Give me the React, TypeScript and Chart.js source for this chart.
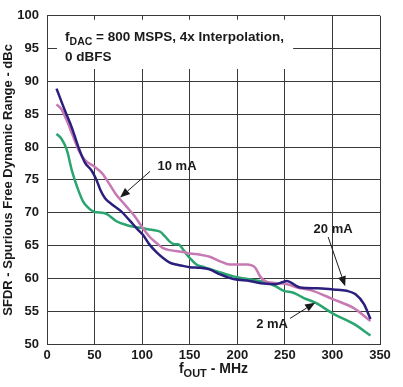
import React, { useEffect, useRef } from "react";
import { Chart, registerables } from "chart.js";

Chart.register(...registerables);

const xTicks = [0, 50, 100, 150, 200, 250, 300, 350];
const yTicks = [50, 55, 60, 65, 70, 75, 80, 85, 90, 95, 100];

const blueX = [10, 19, 26, 33, 40, 47, 52, 56, 61, 68, 78, 87, 95, 101, 108, 115, 122, 129, 136, 143, 150, 161, 170, 182, 196, 213, 228, 240, 252, 266, 284, 301, 315, 324, 333, 340];
const blueY = [88.9, 85.5, 83, 80, 77.6, 76.4, 75, 73.5, 72.2, 71.3, 70.2, 68.8, 67.5, 66.6, 65.1, 64, 63.1, 62.4, 62.1, 61.9, 61.7, 61.6, 61.4, 60.6, 59.9, 59.6, 59.2, 59.1, 59.6, 58.6, 58.5, 58.3, 58.1, 57.6, 56.1, 53.8];

const pinkX = [10, 15, 20, 27, 34, 40, 50, 58, 65, 72, 82, 92, 101, 108, 115, 122, 129, 143, 150, 161, 171, 182, 192, 210, 219, 224, 232, 248, 266, 277, 301, 322, 340];
const pinkY = [86.5, 85.8, 84.3, 81.8, 79.3, 78, 77, 76, 74.5, 72.9, 71.2, 69.5, 67.6, 66.3, 65.4, 64.6, 64.3, 64.0, 63.8, 63.6, 63.3, 62.6, 62.1, 62.1, 61.6, 60.3, 59.4, 59.2, 58.5, 58.2, 56.8, 55.5, 53.5];

const greenX = [10, 15, 21, 26, 33, 38, 43, 50, 58, 63, 73, 84, 98, 110, 119, 124, 129, 134, 138, 142, 147, 152, 157, 165, 178, 196, 215, 231, 240, 249, 259, 270, 282, 301, 322, 340];
const greenY = [82, 81.3, 79.5, 76.5, 73.4, 71.7, 70.8, 70.1, 70.0, 69.8, 68.7, 68.1, 67.7, 67.4, 67.1, 66.4, 65.6, 65.2, 65.2, 64.6, 63.6, 62.8, 62.1, 61.7, 61.1, 60.3, 59.8, 59.4, 58.8, 58.1, 57.8, 57.0, 56.3, 54.6, 53.1, 51.3];

const seriesLabels = ["20 mA", "10 mA", "2 mA"];
const seriesColors = ["#2b1f7e", "#c679b3", "#2aa56f"];

// annotations in data units: label, text x/y, arrow from x/y, arrow to x/y
const annLabels = ["10 mA", "20 mA", "2 mA"];
const annTextX = [136.7, 300.7, 236.6];
const annTextY = [77.1, 67.4, 53.0];
const annFromX = [108.3, 295.5, 255.5];
const annFromY = [76.3, 66.3, 53.9];
const annToX = [76.8, 313.4, 281.8];
const annToY = [72.3, 58.8, 56.3];

const FONT = "'Liberation Sans', Arial, sans-serif";

function pts(xs: number[], ys: number[]) {
  return xs.map((x, i) => ({ x, y: ys[i] }));
}

const overlayPlugin = {
  id: "overlay",
  beforeDatasetsDraw(chart: any) {
    const ctx = chart.ctx;
    const xs = chart.scales.x;
    const ys = chart.scales.y;
    ctx.save();
    ctx.fillStyle = "#ffffff";
    const bx0 = xs.getPixelForValue(10.5);
    const bx1 = xs.getPixelForValue(258.7);
    const by0 = ys.getPixelForValue(99.4);
    const by1 = ys.getPixelForValue(91.9);
    ctx.fillRect(bx0, by0, bx1 - bx0, by1 - by0);
    ctx.restore();
  },
  afterDatasetsDraw(chart: any) {
    const ctx = chart.ctx;
    const xs = chart.scales.x;
    const ys = chart.scales.y;
    const area = chart.chartArea;
    ctx.save();
    ctx.fillStyle = "#1a1a1a";
    ctx.textBaseline = "alphabetic";
    ctx.textAlign = "left";
    // info text
    const tx = xs.getPixelForValue(19);
    const l1 = ys.getPixelForValue(96.1);
    ctx.font = `bold 13.5px ${FONT}`;
    ctx.fillText("f", tx, l1);
    let w = ctx.measureText("f").width;
    ctx.font = `bold 10.5px ${FONT}`;
    ctx.fillText("DAC", tx + w, l1 + 4);
    w += ctx.measureText("DAC").width;
    ctx.font = `bold 13.5px ${FONT}`;
    ctx.fillText(" = 800 MSPS, 4x Interpolation,", tx + w, l1);
    ctx.fillText("0 dBFS", tx, ys.getPixelForValue(93.1));

    // annotations
    ctx.textAlign = "center";
    ctx.textBaseline = "middle";
    ctx.font = `bold 13px ${FONT}`;
    for (let i = 0; i < annLabels.length; i++) {
      ctx.fillText(annLabels[i], xs.getPixelForValue(annTextX[i]), ys.getPixelForValue(annTextY[i]));
      const x0 = xs.getPixelForValue(annFromX[i]);
      const y0 = ys.getPixelForValue(annFromY[i]);
      const x1 = xs.getPixelForValue(annToX[i]);
      const y1 = ys.getPixelForValue(annToY[i]);
      const ang = Math.atan2(y1 - y0, x1 - x0);
      const hl = 10;
      const hw = 4;
      const bxp = x1 - hl * Math.cos(ang);
      const byp = y1 - hl * Math.sin(ang);
      ctx.strokeStyle = "#1a1a1a";
      ctx.lineWidth = 1;
      ctx.beginPath();
      ctx.moveTo(x0, y0);
      ctx.lineTo(bxp, byp);
      ctx.stroke();
      ctx.beginPath();
      ctx.moveTo(x1, y1);
      ctx.lineTo(bxp + hw * Math.sin(ang), byp - hw * Math.cos(ang));
      ctx.lineTo(bxp - hw * Math.sin(ang), byp + hw * Math.cos(ang));
      ctx.closePath();
      ctx.fill();
    }

    // x axis title with subscript
    ctx.textAlign = "left";
    ctx.textBaseline = "alphabetic";
    const cx = (area.left + area.right) / 2;
    const by = area.bottom + 29;
    ctx.font = `bold 14px ${FONT}`;
    const wf = ctx.measureText("f").width;
    const wr = ctx.measureText(" - MHz").width;
    ctx.font = `bold 11px ${FONT}`;
    const ws = ctx.measureText("OUT").width;
    const sx = cx - (wf + ws + wr) / 2;
    ctx.font = `bold 14px ${FONT}`;
    ctx.fillText("f", sx, by);
    ctx.font = `bold 11px ${FONT}`;
    ctx.fillText("OUT", sx + wf, by + 4);
    ctx.font = `bold 14px ${FONT}`;
    ctx.fillText(" - MHz", sx + wf + ws, by);
    ctx.restore();
  },
};

export default function App() {
  const ref = useRef<HTMLCanvasElement>(null);
  useEffect(() => {
    if (!ref.current) return;
    const data = [pts(blueX, blueY), pts(pinkX, pinkY), pts(greenX, greenY)];
    const chart = new Chart(ref.current, {
      type: "line",
      data: {
        datasets: data.map((d, i) => ({
          label: seriesLabels[i],
          data: d,
          borderColor: seriesColors[i],
          borderWidth: 2.5,
          pointRadius: 0,
          fill: false,
          cubicInterpolationMode: "monotone" as const,
        })),
      },
      options: {
        animation: false,
        responsive: false,
        maintainAspectRatio: false,
        layout: { padding: { left: 0, right: 23, top: 10, bottom: 0 } },
        plugins: { legend: { display: false }, tooltip: { enabled: false } },
        scales: {
          x: {
            type: "linear",
            min: 0,
            max: 350,
            afterBuildTicks: (s: any) => { s.ticks = xTicks.map((v) => ({ value: v })); },
            afterFit: (s: any) => { s.height = 43; },
            grid: { color: "#3a3a3a", lineWidth: 1, drawTicks: false },
            border: { color: "#3a3a3a", width: 1 },
            ticks: { color: "#1a1a1a", font: { family: FONT, size: 13, weight: "bold" }, padding: 4, maxRotation: 0 },
          },
          y: {
            type: "linear",
            min: 50,
            max: 100,
            afterBuildTicks: (s: any) => { s.ticks = yTicks.map((v) => ({ value: v })); },
            afterFit: (s: any) => { s.width = 47; },
            grid: { color: "#3a3a3a", lineWidth: 1, drawTicks: false },
            border: { color: "#3a3a3a", width: 1 },
            ticks: { color: "#1a1a1a", font: { family: FONT, size: 13, weight: "bold" }, padding: 8 },
            title: {
              display: true,
              text: "SFDR - Spurious Free Dynamic Range - dBc",
              color: "#1a1a1a",
              font: { family: FONT, size: 13, weight: "bold" },
              padding: { top: 1, bottom: 0 },
            },
          },
        },
      },
      plugins: [overlayPlugin],
    });
    return () => chart.destroy();
  }, []);
  return (
    <div style={{ position: "absolute", left: 0, top: 0, width: 403, height: 387, background: "#fff" }}>
      <canvas ref={ref} width={403} height={387} style={{ width: 403, height: 387 }} />
    </div>
  );
}
